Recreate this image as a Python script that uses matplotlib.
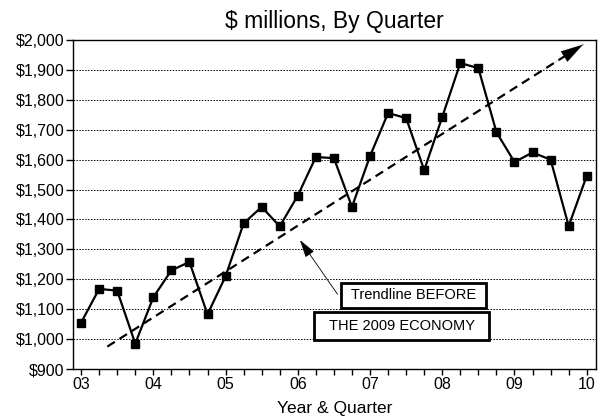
import matplotlib
matplotlib.use("Agg")
from matplotlib import pyplot as plt
import numpy as np

# quarterly values, $ millions, 2003 Q1 .. 2010 Q1
quarter_idx = list(range(29))
sales = [1055, 1168, 1162, 985, 1140, 1230, 1258, 1083,
         1210, 1387, 1442, 1377, 1480, 1609, 1605, 1442,
         1612, 1756, 1739, 1565, 1743, 1923, 1906, 1692,
         1592, 1624, 1600, 1378, 1546]

year_labels = ['03', '04', '05', '06', '07', '08', '09', '10']
year_ticks = [0, 4, 8, 12, 16, 20, 24, 28]

# trend line (start / end) in quarter index and $ millions
trend_x = [1.45, 27.8]
trend_y = [975, 1985]

plt.rcParams['font.family'] = ['Liberation Sans', 'DejaVu Sans']

fig = plt.figure(figsize=(6.03, 4.17), dpi=100)
ax = fig.add_axes([0.121, 0.115, 0.867, 0.789])

ax.plot(quarter_idx, sales, color='black', lw=1.6, marker='s',
        markersize=6, zorder=3)

# dashed trend line + solid head
ax.plot(trend_x, trend_y, color='black', lw=1.6, linestyle=(0, (4, 2.5)), zorder=2)
f = 0.9
head_from = (trend_x[0] + f * (trend_x[1] - trend_x[0]),
             trend_y[0] + f * (trend_y[1] - trend_y[0]))
ax.annotate('', xy=(trend_x[1], trend_y[1]), xytext=head_from,
            arrowprops=dict(arrowstyle='-|>,head_length=0.8,head_width=0.22',
                            lw=0.1, color='black', mutation_scale=20,
                            shrinkA=0, shrinkB=0), zorder=2)

# callout
ax.annotate('', xy=(12.12, 1331), xytext=(14.2, 1150),
            arrowprops=dict(arrowstyle='-|>,head_length=0.55,head_width=0.16',
                            lw=0.6, color='black',
                            mutation_scale=20, shrinkA=0, shrinkB=0), zorder=4)
ax.text(17.76, 1044, '  THE 2009 ECONOMY  ', ha='center', va='center', fontsize=10.5,
        bbox=dict(boxstyle='square,pad=0.45', fc='white', ec='black', lw=2), zorder=5)
ax.text(18.4, 1146, ' Trendline BEFORE ', ha='center', va='center', fontsize=10.5,
        bbox=dict(boxstyle='square,pad=0.4', fc='white', ec='black', lw=2), zorder=6)

ax.set_xlim(-0.45, 28.5)
ax.set_ylim(900, 2000)
ax.set_yticks(np.arange(900, 2001, 100))
ax.set_yticklabels(['$' + format(v, ',') for v in range(900, 2001, 100)], fontsize=11.5)
ax.set_xticks(quarter_idx, minor=True)
ax.set_xticks(year_ticks)
ax.set_xticklabels(year_labels, fontsize=11.5)
ax.tick_params(axis='y', length=5, width=1, pad=1)
ax.tick_params(axis='x', which='both', length=4, width=1, pad=2)
ax.yaxis.grid(True, color='black', linestyle=(0, (1.5, 1.5)), lw=0.7)
for s in ax.spines.values():
    s.set_linewidth(1)

ax.set_title('$ millions, By Quarter', fontsize=16.5, pad=9)
ax.set_xlabel('Year & Quarter', fontsize=12.5, labelpad=6)

fig.savefig('out.png', dpi=100)
